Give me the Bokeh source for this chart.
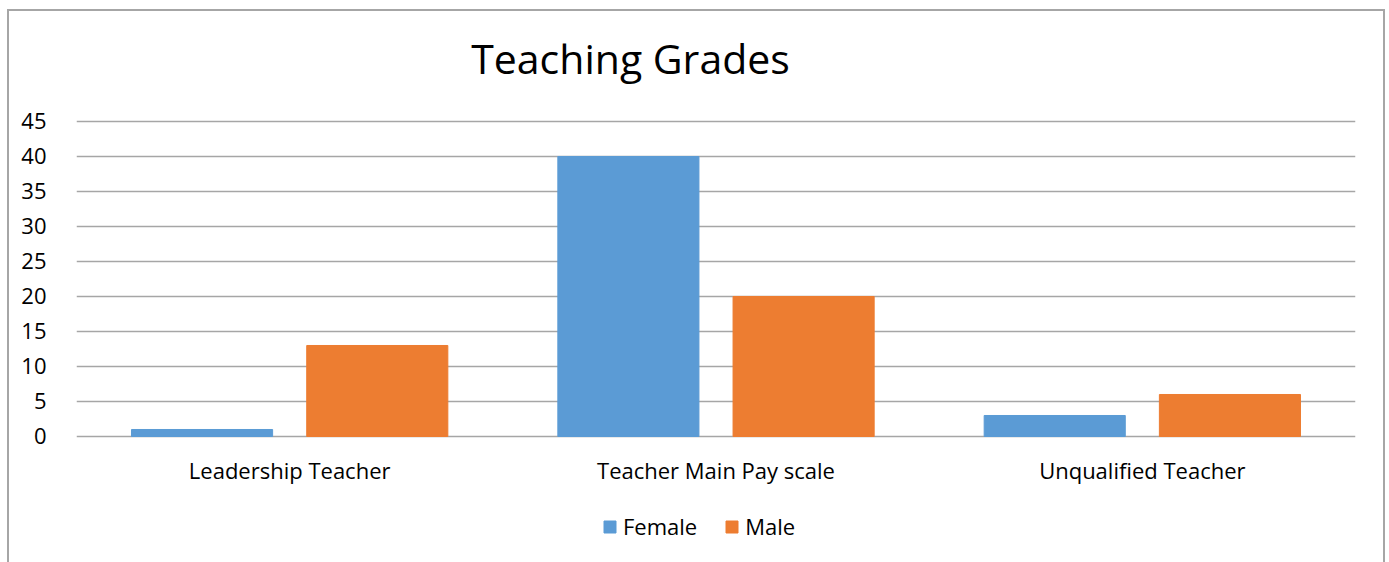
from bokeh.plotting import figure
from bokeh.models import ColumnDataSource, FactorRange, Legend, LegendItem, Label
from bokeh.transform import dodge
from bokeh.embed import file_html
from bokeh.resources import INLINE

categories = ["Leadership Teacher", "Teacher Main Pay scale", "Unqualified Teacher"]
female = [1, 40, 3]
male = [13, 20, 6]
series = ["Female", "Male"]
y_ticks = [0, 5, 10, 15, 20, 25, 30, 35, 40, 45]

FONT = "Open Sans"
src = ColumnDataSource(dict(cat=categories, female=female, male=male))

# frame covers the whole canvas height; 7 px per unit, 0 at y=436 px, 45 at y=121 px
p = figure(x_range=FactorRange(*categories, range_padding=0), y_range=(-18.286, 60.714),
           width=1378, height=553, output_backend="svg", toolbar_location=None,
           min_border_left=67, min_border_right=32, min_border_top=0, min_border_bottom=0)
p.margin = (9, 0, 0, 7)
p.styles = {"border": "2px solid #a6a6a6", "border-bottom": "none", "box-sizing": "border-box"}
p.outline_line_color = None

title = Label(x=1.2995, y=54.0, text="Teaching Grades", text_font=FONT, text_font_size="41px",
              text_align="center", text_baseline="alphabetic", text_color="#000000")
p.add_layout(title)

rf = p.vbar(x=dodge("cat", -0.2055, range=p.x_range), top="female", width=0.331, bottom=0,
            source=src, color="#5B9BD5")
rm = p.vbar(x=dodge("cat", 0.2055, range=p.x_range), top="male", width=0.331, bottom=0,
            source=src, color="#ED7D31")

p.xgrid.grid_line_color = None
p.ygrid.grid_line_color = "#a6a6a6"
p.ygrid.grid_line_width = 1.5
p.yaxis.ticker = y_ticks
p.xaxis.fixed_location = 0
for ax in (p.xaxis[0], p.yaxis[0]):
    ax.axis_line_color = None
    ax.major_tick_line_color = None
    ax.minor_tick_line_color = None
    ax.major_label_text_font = FONT
    ax.major_label_text_font_size = "22px"
    ax.major_label_text_color = "#000000"
p.xaxis.major_label_standoff = 13
p.yaxis.major_label_standoff = 24

legend = Legend(items=[LegendItem(label=series[0], renderers=[rf]),
                       LegendItem(label=series[1], renderers=[rm])],
                orientation="horizontal", location=(526, 23),
                label_text_font=FONT, label_text_font_size="22px", label_text_color="#000000",
                glyph_width=15, glyph_height=15, spacing=27, label_standoff=6,
                border_line_color=None, background_fill_alpha=0, padding=0, margin=0)
p.add_layout(legend, "center")

open("out.html", "w").write(file_html(p, INLINE))
